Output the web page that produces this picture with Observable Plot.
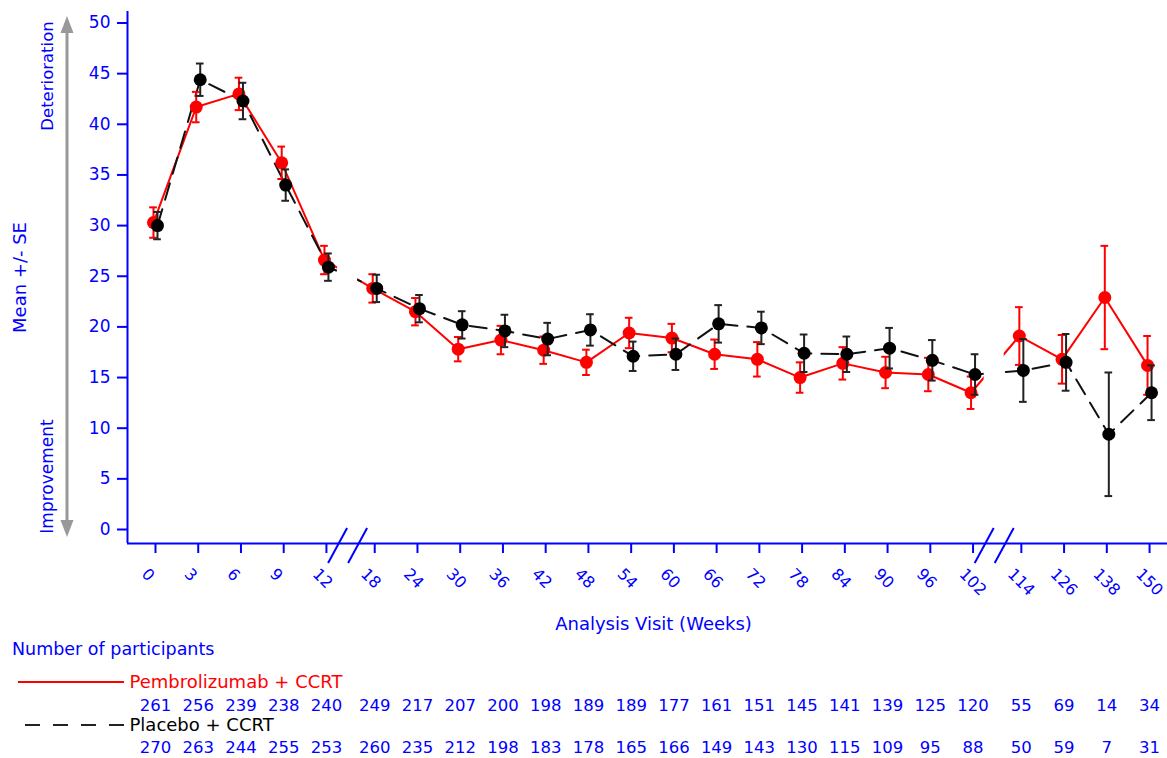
<!DOCTYPE html>
<html>
<head>
<meta charset="utf-8">
<script src="https://cdn.jsdelivr.net/npm/d3@7"></script>
<script src="https://cdn.jsdelivr.net/npm/@observablehq/plot@0.6"></script>
<style>
  html, body { margin: 0; padding: 0; background: #fff; }
  #chart svg { display: block; }
</style>
</head>
<body>
<div id="chart"></div>
<script>
// ---- Data ----
const weeks = [0, 3, 6, 9, 12, 18, 24, 30, 36, 42, 48, 54, 60, 66, 72, 78, 84, 90, 96, 102, 114, 126, 138, 150];
const pembroMean = [30.3, 41.7, 43.0, 36.2, 26.6, 23.8, 21.5, 17.8, 18.7, 17.7, 16.5, 19.4, 18.9, 17.3, 16.8, 15.0, 16.4, 15.5, 15.3, 13.5, 19.1, 16.8, 22.9, 16.2];
const pembroSE   = [1.5, 1.5, 1.6, 1.6, 1.4, 1.4, 1.35, 1.2, 1.4, 1.35, 1.25, 1.5, 1.4, 1.45, 1.7, 1.5, 1.6, 1.55, 1.65, 1.6, 2.85, 2.4, 5.1, 2.9];
const placeboMean = [30.0, 44.4, 42.3, 34.0, 25.9, 23.8, 21.8, 20.2, 19.6, 18.8, 19.7, 17.1, 17.3, 20.3, 19.9, 17.4, 17.3, 17.9, 16.7, 15.3, 15.7, 16.5, 9.4, 13.5];
const placeboSE   = [1.35, 1.6, 1.8, 1.55, 1.35, 1.35, 1.35, 1.35, 1.6, 1.6, 1.55, 1.45, 1.55, 1.85, 1.6, 1.85, 1.75, 2.0, 2.0, 2.0, 3.1, 2.8, 6.1, 2.7];
const pembroN   = [261, 256, 239, 238, 240, 249, 217, 207, 200, 198, 189, 189, 177, 161, 151, 145, 141, 139, 125, 120, 55, 69, 14, 34];
const placeboN  = [270, 263, 244, 255, 253, 260, 235, 212, 198, 183, 178, 165, 166, 149, 143, 130, 115, 109, 95, 88, 50, 59, 7, 31];
const yTicks = [0, 5, 10, 15, 20, 25, 30, 35, 40, 45, 50];
const seriesNames = ["Pembrolizumab + CCRT", "Placebo + CCRT"];
const yLabel = "Mean +/- SE";
const xLabel = "Analysis Visit (Weeks)";
const tableTitle = "Number of participants";
const upLabel = "Deterioration";
const downLabel = "Improvement";
const breakAfter = [4, 19]; // axis breaks after week 12 and week 102

// ---- Derived positions on an ordinal-like axis with breaks ----
const gap = 0.13;
const pos = weeks.map((w, i) => i + gap * breakAfter.filter(b => i > b).length);
const breaks = breakAfter.map(b => (pos[b] + pos[b + 1]) / 2 - 0.07);
const pembro = weeks.map((w, i) => ({pos: pos[i], week: w, mean: pembroMean[i], lo: pembroMean[i] - pembroSE[i], hi: pembroMean[i] + pembroSE[i], n: pembroN[i]}));
const placebo = weeks.map((w, i) => ({pos: pos[i], week: w, mean: placeboMean[i], lo: placeboMean[i] - placeboSE[i], hi: placeboMean[i] + placeboSE[i], n: placeboN[i]}));
const xTickData = weeks.map((w, i) => ({pos: pos[i], label: String(w)}));

const BLUE = "#0000ff";
const RED = "#ff0000";
const xDomain = [-0.655, pos[pos.length - 1] + 0.42];
const yDomain = [-1.382, 51.135];
const capW = 0.09;

// decorations drawn with pixel offsets from the frame
function decorations(index, scales, values, dims) {
  const g = d3.create("svg:g");
  const fl = dims.marginLeft, ft = dims.marginTop, fb = dims.height - dims.marginBottom;
  // gray double arrow
  const ax = fl - 60;
  g.append("line").attr("x1", ax).attr("x2", ax).attr("y1", ft + 20).attr("y2", fb - 12)
    .attr("stroke", "#999").attr("stroke-width", 3);
  g.append("path").attr("d", `M${ax},${ft + 5}L${ax - 6.5},${ft + 22}L${ax + 6.5},${ft + 22}Z`).attr("fill", "#999");
  g.append("path").attr("d", `M${ax},${fb - 6}L${ax - 6.5},${fb - 23}L${ax + 6.5},${fb - 23}Z`).attr("fill", "#999");
  // axis break slashes
  for (const b of breaks) {
    const cx = scales.x(b);
    for (const off of [0, 20]) {
      g.append("line").attr("x1", cx + off).attr("y1", fb - 15).attr("x2", cx + off - 19).attr("y2", fb + 20)
        .attr("stroke", BLUE).attr("stroke-width", 2);
    }
  }
  // legend lines in the participants table
  g.append("line").attr("x1", 18).attr("x2", 124).attr("y1", fb + 139).attr("y2", fb + 139)
    .attr("stroke", RED).attr("stroke-width", 2);
  g.append("line").attr("x1", 25).attr("x2", 124).attr("y1", fb + 182).attr("y2", fb + 182)
    .attr("stroke", "#222").attr("stroke-width", 2).attr("stroke-dasharray", "15,13");
  return g.node();
}

const mid = {textAnchor: "middle", lineAnchor: "middle"};
const startMid = {textAnchor: "start", lineAnchor: "middle"};

const chart = Plot.plot({
  width: 1167,
  height: 758,
  marginLeft: 127,
  marginRight: 0,
  marginTop: 11,
  marginBottom: 215,
  style: {fontFamily: "DejaVu Sans", background: "white", overflow: "visible"},
  x: {domain: xDomain, label: null},
  y: {domain: yDomain, label: null},
  marks: [
    // series lines
    Plot.line(pembro, {x: "pos", y: "mean", stroke: RED, strokeWidth: 2, dx: -2}),
    Plot.line(placebo, {x: "pos", y: "mean", stroke: "#111", strokeWidth: 2, strokeDasharray: "17,10", dx: 2}),
    // white gaps at the axis breaks
    Plot.rect(breaks, {x1: d => d - 0.234, x2: d => d + 0.234, fill: "white"}),
    // error bars + dots: pembrolizumab
    Plot.ruleX(pembro, {x: "pos", y1: "lo", y2: "hi", stroke: RED, strokeWidth: 2, dx: -2}),
    Plot.ruleY(pembro, {y: "hi", x1: d => d.pos - capW, x2: d => d.pos + capW, stroke: RED, strokeWidth: 2, dx: -2}),
    Plot.ruleY(pembro, {y: "lo", x1: d => d.pos - capW, x2: d => d.pos + capW, stroke: RED, strokeWidth: 2, dx: -2}),
    Plot.dot(pembro, {x: "pos", y: "mean", r: 6.5, fill: RED, dx: -2}),
    // error bars + dots: placebo
    Plot.ruleX(placebo, {x: "pos", y1: "lo", y2: "hi", stroke: "#222", strokeWidth: 2, dx: 2}),
    Plot.ruleY(placebo, {y: "hi", x1: d => d.pos - capW, x2: d => d.pos + capW, stroke: "#222", strokeWidth: 2, dx: 2}),
    Plot.ruleY(placebo, {y: "lo", x1: d => d.pos - capW, x2: d => d.pos + capW, stroke: "#222", strokeWidth: 2, dx: 2}),
    Plot.dot(placebo, {x: "pos", y: "mean", r: 6.5, fill: "#000", dx: 2}),
    // axes
    Plot.ruleX([xDomain[0]], {stroke: BLUE, strokeWidth: 2}),
    Plot.ruleY([yDomain[0]], {stroke: BLUE, strokeWidth: 2}),
    Plot.axisY({ticks: yTicks, tickSize: 10, tickPadding: 7, color: BLUE, strokeWidth: 2, fontSize: 17, label: null}),
    Plot.axisX({ticks: pos, tickSize: 10, tickFormat: () => "", color: BLUE, strokeWidth: 2, label: null}),
    Plot.text(xTickData, {x: "pos", text: "label", frameAnchor: "bottom", dx: -11, dy: 28, rotate: 45,
      ...startMid, fill: BLUE, fontSize: 16}),
    // axis titles
    Plot.text([xLabel], {frameAnchor: "bottom", dx: 6, dy: 81, ...mid, fill: BLUE, fontSize: 18}),
    Plot.text([yLabel], {frameAnchor: "left", dx: -107, dy: 0, rotate: -90, ...mid, fill: BLUE, fontSize: 18}),
    Plot.text([upLabel], {frameAnchor: "top-left", dx: -80, dy: 64.5, rotate: -90, ...mid, fill: BLUE, fontSize: 16.5}),
    Plot.text([downLabel], {frameAnchor: "bottom-left", dx: -79.5, dy: -67, rotate: -90, ...mid, fill: BLUE, fontSize: 17}),
    // participants table
    Plot.text([tableTitle], {frameAnchor: "bottom-left", dx: -115.5, dy: 106, ...startMid, fill: BLUE, fontSize: 17.5}),
    Plot.text([seriesNames[0]], {frameAnchor: "bottom-left", dx: 2, dy: 139, ...startMid, fill: RED, fontSize: 18}),
    Plot.text(pembro, {x: "pos", text: "n", frameAnchor: "bottom", dy: 162, ...mid, fill: BLUE, fontSize: 16.5}),
    Plot.text([seriesNames[1]], {frameAnchor: "bottom-left", dx: 2, dy: 182, ...startMid, fill: "#000", fontSize: 18}),
    Plot.text(placebo, {x: "pos", text: "n", frameAnchor: "bottom", dy: 204, ...mid, fill: BLUE, fontSize: 16.5}),
    decorations
  ]
});
document.getElementById("chart").appendChild(chart);
</script>
</body>
</html>
